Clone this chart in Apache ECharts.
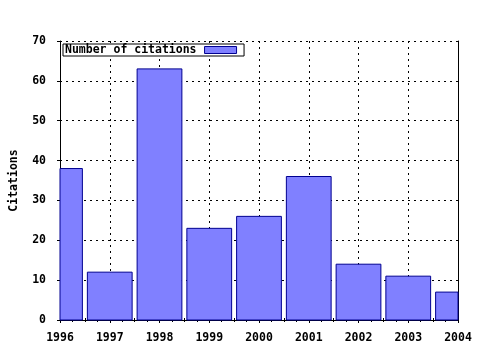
<!DOCTYPE html>
<html>
<head>
<meta charset="utf-8">
<script src="https://cdn.jsdelivr.net/npm/echarts@6/dist/echarts.min.js"></script>
<style>html,body{margin:0;padding:0;background:#fff;}#c{width:480px;height:350px;}</style>
</head>
<body>
<div id="c"></div>
<script>
var years = [1996, 1997, 1998, 1999, 2000, 2001, 2002, 2003, 2004];
var citations = [38, 12, 63, 23, 26, 36, 14, 11, 7];
var seriesName = 'Number of citations';
var yTitle = 'Citations';

var FONT = 'DejaVu Sans Mono';
var fs = 11.5;
var chart = echarts.init(document.getElementById('c'));
var data = years.map(function (y, i) { return [y, citations[i]]; });

var labelStyle = { color: '#000', fontFamily: FONT, fontWeight: 'bold', fontSize: fs };
chart.setOption({
  animation: false,
  backgroundColor: '#fff',
  grid: { left: 57, right: 22, top: 41, bottom: 30 },
  legend: {
    left: 63, top: 44, orient: 'horizontal',
    align: 'right',
    backgroundColor: '#fff',
    borderColor: '#000', borderWidth: 1, padding: [0, 7, 0, 2],
    itemWidth: 32, itemHeight: 7, itemGap: 0,
    itemStyle: { color: '#8080ff', borderColor: '#000090', borderWidth: 1 },
    textStyle: { color: '#000', fontFamily: FONT, fontWeight: 'bold', fontSize: fs, padding: [0, 3, 0, 0] },
    data: [{ name: seriesName, icon: 'rect', itemStyle: { color: '#8080ff', borderColor: '#000090', borderWidth: 1 } }],
    selectedMode: false,
    z: 20
  },
  xAxis: [{
    type: 'value', min: 1996, max: 2004, interval: 1, position: 'bottom', z: 0,
    axisLine: { show: true, lineStyle: { color: '#000', width: 1 } },
    axisTick: { show: true, inside: false, length: 3, lineStyle: { color: '#000' } },
    minorTick: { show: true, splitNumber: 4, length: 2, lineStyle: { color: '#000' } },
    axisLabel: Object.assign({ margin: 12, formatter: function (v) { return String(v); } }, labelStyle),
    splitLine: { show: true, lineStyle: { color: '#000', type: [2, 4], width: 1 } }
  }, {
    type: 'value', min: 1996, max: 2004, interval: 1, position: 'top', z: 0,
    axisLine: { show: true, lineStyle: { color: '#000', width: 1 } },
    axisTick: { show: true, inside: false, length: 3, lineStyle: { color: '#000' } },
    minorTick: { show: true, splitNumber: 4, length: 2, lineStyle: { color: '#000' } },
    axisLabel: { show: false },
    splitLine: { show: false }
  }],
  yAxis: [{
    type: 'value', min: 0, max: 70, interval: 10, position: 'left', z: 0,
    name: yTitle, nameLocation: 'middle', nameGap: 40, nameRotate: 90,
    nameTextStyle: labelStyle,
    axisLine: { show: true, lineStyle: { color: '#000', width: 1 } },
    axisTick: { show: true, inside: false, length: 3, lineStyle: { color: '#000' } },
    axisLabel: Object.assign({ margin: 14 }, labelStyle),
    splitLine: { show: true, lineStyle: { color: '#000', type: [2, 4], width: 1 } }
  }, {
    type: 'value', min: 0, max: 70, interval: 10, position: 'right', z: 0,
    axisLine: { show: true, lineStyle: { color: '#000', width: 1 } },
    axisTick: { show: false },
    axisLabel: { show: false },
    splitLine: { show: false }
  }],
  series: [{
    name: seriesName,
    type: 'custom',
    xAxisIndex: 0, yAxisIndex: 0,
    itemStyle: { color: '#8080ff', borderColor: '#000090', borderWidth: 1 },
    renderItem: function (params, api) {
      var x = api.value(0), y = api.value(1);
      var p0 = api.coord([x - 0.45, y]);
      var p1 = api.coord([x + 0.45, 0]);
      var cs = params.coordSys;
      var rect = echarts.graphic.clipRectByRect(
        { x: p0[0], y: p0[1], width: p1[0] - p0[0], height: p1[1] - p0[1] },
        { x: cs.x, y: cs.y, width: cs.width, height: cs.height });
      if (!rect) return null;
      return {
        type: 'rect', shape: rect,
        style: { fill: '#8080ff', stroke: '#000090', lineWidth: 1 }
      };
    },
    encode: { x: 0, y: 1 },
    data: data,
    z: 10
  }]
});
</script>
</body>
</html>
